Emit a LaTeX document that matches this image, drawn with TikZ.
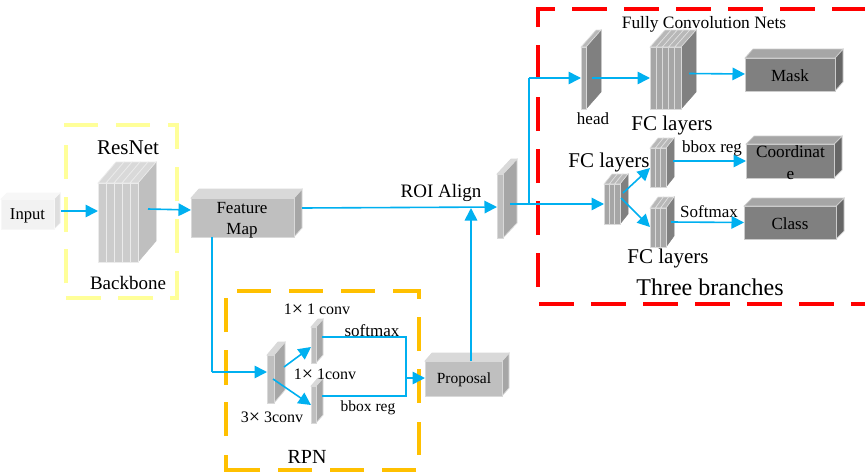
\documentclass[tikz,border=0pt]{standalone}
\usepackage{fontspec}
\setmainfont{Liberation Serif}
\usetikzlibrary{arrows.meta}
\definecolor{cblue}{HTML}{00B0F0}
\definecolor{cyellow}{HTML}{FFFF99}
\definecolor{corange}{HTML}{FFC000}
\definecolor{cred}{HTML}{FF0000}
\newcommand\wtimes{{\fontsize{20}{20}\selectfont\raisebox{-0.6pt}{×}}}
\tikzset{
  x=1pt,y=-1pt,
  lab/.style={font=\fontsize{#1}{21.5}\selectfont,inner sep=0pt,align=center,text=black},
  conn/.style={draw=cblue,line width=1.6pt,-{Triangle[length=12.5pt,width=12.5pt]}},
  link/.style={draw=cblue,line width=1.4pt},
  ybox/.style={draw=cyellow,line width=3.6pt},
  obox/.style={draw=corange,line width=3.6pt},
  rbox/.style={draw=cred,line width=3.8pt,dash pattern=on 34.5pt off 17.5pt},
  paleF/.style={fill=black!5,draw=black!3,line width=.7pt},
  paleT/.style={fill=black!3,draw=black!3,line width=.7pt},
  paleS/.style={fill=black!13,draw=black!8,line width=.7pt},
  midF/.style={fill=black!25,draw=black!15,line width=.9pt},
  midT/.style={fill=black!15,draw=black!15,line width=.7pt},
  midS/.style={fill=black!35,draw=black!15,line width=.7pt},
  darkF/.style={fill=black!50,draw=black!20,line width=.9pt},
  darkT/.style={fill=black!35,draw=black!20,line width=.7pt},
  darkS/.style={fill=black!60,draw=black!20,line width=.7pt},
  resF/.style={fill=black!20,draw=black!8,line width=.9pt},
  resT/.style={fill=black!15,draw=black!8,line width=.7pt},
  resS/.style={fill=black!25,draw=black!25,line width=.5pt},
  fcF/.style={fill=black!35,draw=black!15,line width=.8pt},
  fcT/.style={fill=black!28,draw=black!12,line width=.6pt},
  fcS/.style={fill=black!50,draw=black!50,line width=.5pt},
}
% name, x1, y1, x2, y2, dx, dy, slabs, palette
\newcommand\blockbox[9]{%
  \pgfmathsetmacro\blw{(#4-#2)/#8}%
  \pgfmathsetmacro\blh{#5-#3}%
  \path[#9S] (#4,#3) -- ++(#6,-#7) -- ++(0,\blh) -- (#4,#5) -- cycle;
  \foreach \i in {1,...,#8}{%
    \pgfmathsetmacro\bla{#2+(\i-1)*\blw}%
    \path[#9T] (\bla,#3) -- ++(#6,-#7) -- ++(\blw,0) -- ++(-#6,#7) -- cycle;
    \path[#9F] (\bla,#3) rectangle ++(\blw,\blh);
  }
  \node[inner sep=0pt,outer sep=0pt,minimum width={(#4-#2)*1pt},minimum height={(#5-#3)*1pt}] (#1) at ({(#2+#4)/2},{(#3+#5)/2}) {};
}
\begin{document}
\begin{tikzpicture}
\useasboundingbox (0,0) rectangle (865,474);
\fill[white] (0,0) rectangle (865,474);
% dashed frames
\draw[ybox] (64,125) -- (98,125) (116,125) -- (150,125) (168,125) -- (177,125) -- (177,149)
  (177,167) -- (177,201) (177,219) -- (177,253) (177,271) -- (177,298) -- (170,298)
  (153,298) -- (118,298) (101,298) -- (66,298) (66,283) -- (66,249) (66,232) -- (66,197) (66,179) -- (66,145);
\draw[obox] (237,291) -- (271,291) (289,291) -- (323,291) (341,291) -- (375,291) (393,291) -- (419,291) -- (419,299)
  (419,317) -- (419,351) (419,369) -- (419,403) (419,422) -- (419,455)
  (416,470) -- (382,470) (364,470) -- (330,470) (312,470) -- (278,470) (260,470) -- (226,470) -- (226,455)
  (226,436) -- (226,402) (226,385) -- (226,350) (226,332) -- (226,298);
\draw[rbox] (538,287) -- (538,9) -- (875,9);
\draw[rbox] (539,304) -- (875,304);
% blocks
\blockbox{input}{1}{199}{54}{229}{6}{6}{1}{pale}
\blockbox{resnet}{98}{183}{138}{262}{18}{21}{5}{res}
\blockbox{feature}{191}{198}{294}{237}{8}{9}{1}{mid}
\blockbox{roi}{497}{174}{503}{238}{14}{15}{1}{mid}
\blockbox{headb}{581}{47}{586}{109}{15}{17}{1}{fc}
\blockbox{fcn}{650}{47}{681}{109}{15}{17}{5}{fc}
\blockbox{mask}{745}{58}{835}{91}{8}{9}{1}{dark}
\blockbox{coord}{746}{144}{834}{178}{8}{8}{1}{dark}
\blockbox{classb}{744}{206}{836}{239}{8}{8}{1}{dark}
\blockbox{fcmid}{604}{184}{620}{224}{8}{10}{3}{fc}
\blockbox{fcup}{650}{148}{666}{187}{8}{10}{3}{fc}
\blockbox{fclow}{650}{208}{666}{247}{8}{11}{3}{fc}
\blockbox{conva}{267}{355}{274}{403}{11}{13}{1}{mid}
\blockbox{convb}{311}{327}{316}{363}{7}{8}{1}{mid}
\blockbox{convc}{311}{386}{316}{423}{7}{8}{1}{mid}
\blockbox{proposal}{425}{361}{502}{396}{7}{8}{1}{mid}
% connectors
\coordinate (roiup) at (471,208);
\coordinate (bendmain) at (212,372);
\coordinate (bendup) at (529,204);
\coordinate (bendhead) at (529,78);
\coordinate (merge) at (406,378);
\coordinate (softcorner) at (406,337);
\coordinate (regcorner) at (406,396);
\draw[conn] ([shift={(7,-3)}]input.east) -- ([shift={(0,-3)}]input.east -| resnet.west);
\draw[conn] ([shift={(10,-13.5)}]resnet.east) -- ([shift={(0,-7.5)}]feature.west);
\draw[conn] ([shift={(8,-9.5)}]feature.east) -- ([shift={(0,1)}]roi.west);
\draw[link] (feature.south -| bendmain) -- (bendmain);
\draw[conn] (bendmain) -- ([shift={(0,-7)}]conva.west);
\draw[conn] ([shift={(10,-12)}]conva.east) -- ([shift={(0,2)}]convb.west);
\draw[conn] ([shift={(-1,0)}]conva.east) -- ([shift={(0,0.5)}]convc.west);
\draw[link] ([shift={(6,-8)}]convb.east) -- (softcorner) -- (merge);
\draw[link] ([shift={(6,-8.5)}]convc.east) -- (regcorner) -- (merge);
\draw[conn] (merge) -- ([shift={(0,-0.5)}]proposal.west);
\draw[conn] (proposal.north -| roiup) -- (roiup);
\draw[conn] ([shift={(7,-2)}]roi.east) -- (bendup -| fcmid.west);
\draw[link] (bendup) -- (bendhead);
\draw[conn] (bendhead) -- (bendhead -| headb.west);
\draw[conn] ([shift={(6,0)}]headb.east) -- (fcn.west);
\draw[conn] ([shift={(8,-4.5)}]fcn.east) -- ([shift={(0,-0.5)}]mask.west);
\draw[conn] ([shift={(3,-11)}]fcmid.east) -- ([shift={(0,0.5)}]fcup.west);
\draw[conn] ([shift={(1,-6)}]fcmid.east) -- ([shift={(0,-0.5)}]fclow.west);
\draw[conn] ([shift={(7,-6.5)}]fcup.east) -- (coord.west);
\draw[conn] ([shift={(5,-5.5)}]fclow.east) -- (classb.west);
% labels
\node[lab=21] (tresnet) at (128,148) {ResNet};
\node[lab=19] (tback) at (128,283) {Backbone};
\node[lab=16.6] (tinput) at (27.5,216) {Input};
\node[lab=17] (tfeat) at (242,220) {Feature\\Map};
\node[lab=19] (troi) at (441,193) {ROI Align};
\node[lab=17.4] (tfully) at (704,24.5) {Fully Convolution Nets};
\node[lab=17] (thead) at (593,119) {head};
\node[lab=21] (tfca) at (672,125) {FC layers};
\node[lab=17] (tmask) at (790,76) {Mask};
\node[lab=21] (tfcb) at (609,162) {FC layers};
\node[lab=17] (tbbox) at (712,148) {bbox reg};
\node[lab=17.2] (tcoord) at (790.5,162.5) {Coordinat\\e};
\node[lab=17] (tsoft) at (709,212) {Softmax};
\node[lab=17] (tclass) at (790,224) {Class};
\node[lab=21] (tfcc) at (668,258) {FC layers};
\node[lab=24] (tthree) at (710,287) {Three branches};
\node[lab=16] (tconva) at (317,309.5) {1\wtimes{} 1 conv};
\node[lab=17] (tsoftb) at (372,331) {softmax};
\node[lab=16] (tconvb) at (325,374.5) {1\wtimes{} 1conv};
\node[lab=15.5] (tbboxb) at (368,407.5) {bbox reg};
\node[lab=16] (tconvc) at (272,417.5) {3\wtimes{} 3conv};
\node[lab=20] (trpn) at (307,457) {RPN};
\node[lab=15.5] (tprop) at (464,379.5) {Proposal};
\end{tikzpicture}
\end{document}
